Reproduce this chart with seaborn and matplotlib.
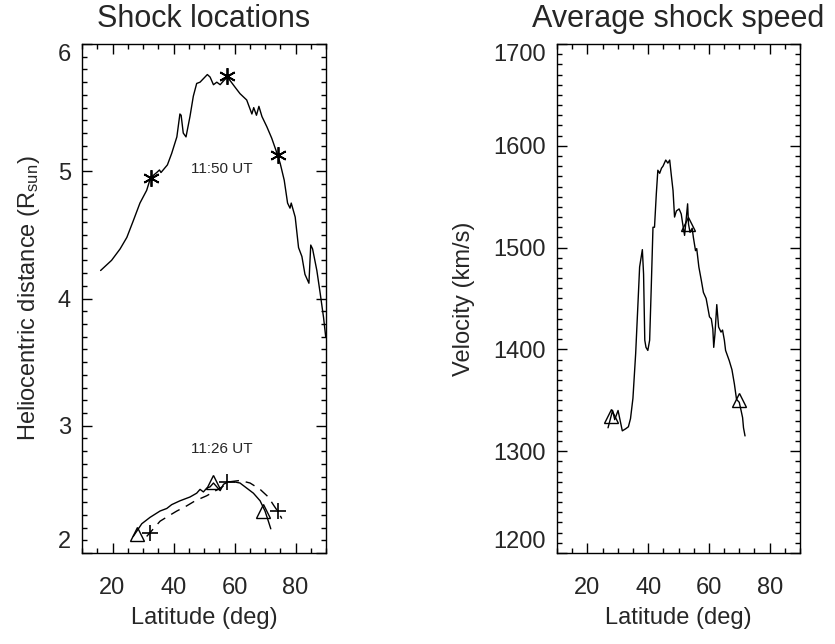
import numpy as np
import pandas as pd
import matplotlib
matplotlib.use("Agg")
import matplotlib.pyplot as plt
import seaborn as sns
from matplotlib.ticker import MultipleLocator

# ---- shock front at 11:50 UT (latitude in deg, distance in R_sun) ----
lat_1150 = [16.1, 19.7, 22.5, 24.7, 26.8, 29.0, 31.2, 32.5, 34.5, 35.4, 35.9, 38.0,
            39.4, 41.1, 42.1, 42.5, 43.2, 44.1, 45.4, 46.5, 47.6, 48.7, 51.1, 52.0,
            53.1, 54.2, 55.3, 56.4, 57.7, 60.2, 61.8, 64.0, 65.7, 66.3, 67.2, 68.0,
            69.0, 70.6, 72.2, 74.1, 75.0, 76.3, 77.4, 78.2, 78.6, 79.9, 81.0, 82.1,
            83.1, 84.4, 85.0, 85.6, 87.0, 88.1, 89.2, 89.9]
r_1150 = [4.22, 4.30, 4.39, 4.48, 4.61, 4.75, 4.85, 4.95, 4.99, 5.01, 4.99, 5.05,
          5.14, 5.27, 5.45, 5.44, 5.30, 5.27, 5.43, 5.59, 5.69, 5.70, 5.76, 5.74,
          5.68, 5.70, 5.68, 5.71, 5.74, 5.66, 5.61, 5.56, 5.45, 5.50, 5.44, 5.51,
          5.43, 5.35, 5.26, 5.13, 5.06, 4.93, 4.75, 4.71, 4.75, 4.64, 4.40, 4.33,
          4.19, 4.12, 4.42, 4.39, 4.22, 4.04, 3.85, 3.70]
star_lat = [32.5, 57.7, 74.1]
star_r = [4.95, 5.75, 5.13]

# ---- shock front at 11:26 UT ----
lat_1126 = [26.8, 29.6, 32.3, 35.6, 37.8, 39.4, 42.1, 45.4, 47.6, 48.7, 49.8, 50.9,
            52.0, 53.1, 54.2, 55.3, 56.4, 58.0, 59.7, 61.8, 64.0, 66.2, 68.4, 70.0,
            71.1, 71.9]
r_1126 = [2.13, 2.23, 2.28, 2.33, 2.35, 2.38, 2.41, 2.44, 2.47, 2.50, 2.48, 2.51,
          2.52, 2.55, 2.52, 2.49, 2.54, 2.56, 2.56, 2.55, 2.51, 2.47, 2.41, 2.33,
          2.25, 2.19]
tri_lat = [27.9, 53.1, 69.3]
tri_r = [2.15, 2.56, 2.33]

# ---- fitted front, 11:26 UT (dashed) ----
lat_fit = [31.2, 35.6, 38.3, 41.1, 44.3, 47.1, 50.9, 55.3, 58.5, 61.8, 65.1, 68.4,
           71.1, 72.7, 74.4, 75.5]
r_fit = [2.13, 2.25, 2.29, 2.33, 2.37, 2.41, 2.45, 2.51, 2.56, 2.57, 2.55, 2.50,
         2.44, 2.38, 2.32, 2.27]
plus_lat = [32.3, 57.4, 74.4]
plus_r = [2.16, 2.56, 2.33]

# ---- average shock speed ----
lat_v = [26.8, 28.3, 29.0, 30.1, 31.5, 32.6, 33.5, 34.2, 35.0, 35.9, 36.7, 37.2,
         38.1, 38.5, 38.9, 39.3, 39.9, 40.5, 41.0, 41.6, 42.1, 42.7, 43.2, 43.8,
         44.4, 44.9, 45.8, 46.5, 47.1, 47.6, 48.2, 48.7, 49.3, 50.2, 50.9, 51.4,
         52.0, 52.5, 53.0, 53.3, 53.8, 54.5, 54.9, 55.6, 56.0, 56.7, 57.5, 58.2,
         59.1, 60.2, 60.8, 61.3, 61.6, 62.0, 62.6, 63.2, 64.0, 64.5, 65.1, 65.5,
         66.7, 67.6, 68.4, 69.1, 70.0, 70.6, 71.1, 71.4, 71.9]
v_kms = [1323, 1340, 1331, 1340, 1320, 1322, 1324, 1332, 1352, 1396, 1448, 1481,
         1498, 1474, 1409, 1402, 1399, 1409, 1458, 1520, 1520, 1553, 1576, 1573,
         1578, 1580, 1586, 1583, 1586, 1572, 1556, 1530, 1536, 1538, 1533, 1523,
         1512, 1527, 1543, 1523, 1515, 1519, 1510, 1497, 1499, 1481, 1468, 1456,
         1450, 1432, 1430, 1420, 1402, 1415, 1444, 1422, 1417, 1419, 1409, 1399,
         1389, 1380, 1366, 1351, 1348, 1340, 1333, 1323, 1315]
vtri_lat = [27.9, 53.1, 69.8]
vtri_v = [1335, 1523, 1350]

sns.set_theme(style="ticks")
plt.rcParams["font.family"] = ["Liberation Sans", "DejaVu Sans"]
plt.rcParams["mathtext.fontset"] = "custom"
plt.rcParams["mathtext.rm"] = "Liberation Sans"
plt.rcParams["mathtext.it"] = "Liberation Sans:italic"
txt = "#262626"

fig = plt.figure(figsize=(8.35, 6.44), dpi=100)
ax1 = fig.add_axes([82 / 835, 91 / 644, 244 / 835, 509 / 644])
ax2 = fig.add_axes([557 / 835, 91 / 644, 243 / 835, 509 / 644])

line_kw = dict(color="black", lw=1.0, estimator=None, sort=False)

sns.lineplot(data=pd.DataFrame({"lat": lat_1150, "r": r_1150}), x="lat", y="r",
             ax=ax1, **line_kw)
sns.lineplot(data=pd.DataFrame({"lat": lat_1126, "r": r_1126}), x="lat", y="r",
             ax=ax1, **line_kw)
sns.lineplot(data=pd.DataFrame({"lat": lat_fit, "r": r_fit}), x="lat", y="r",
             ax=ax1, dashes=False, linestyle=(0, (7, 5)), **line_kw)
sns.lineplot(x=star_lat, y=star_r, ax=ax1, estimator=None, sort=False,
             linestyle="none", marker=(6, 2, 0), markersize=12,
             markeredgecolor="black", markeredgewidth=1.3, color="black")
sns.lineplot(x=tri_lat, y=tri_r, ax=ax1, estimator=None, sort=False,
             linestyle="none", marker="^", markersize=10, markerfacecolor="none",
             markeredgecolor="black", markeredgewidth=1.0, color="black")
sns.lineplot(x=plus_lat, y=plus_r, ax=ax1, estimator=None, sort=False,
             linestyle="none", marker="+", markersize=11,
             markeredgecolor="black", markeredgewidth=1.2, color="black")

ax1.text(56, 5.02, "11:50 UT", ha="center", va="center", fontsize=11, color=txt)
ax1.text(56, 2.82, "11:26 UT", ha="center", va="center", fontsize=11, color=txt)

sns.lineplot(data=pd.DataFrame({"lat": lat_v, "v": v_kms}), x="lat", y="v",
             ax=ax2, **line_kw)
sns.lineplot(x=vtri_lat, y=vtri_v, ax=ax2, estimator=None, sort=False,
             linestyle="none", marker="^", markersize=10, markerfacecolor="none",
             markeredgecolor="black", markeredgewidth=1.0, color="black")

panels = [
    (ax1, (2, 6), 1, 0.1, "Heliocentric distance (R$_\\mathregular{sun}$)",
     "Shock locations", 11),
    (ax2, (1200, 1700), 100, 10, "Velocity (km/s)", "Average shock speed", 13),
]
for ax, ylim, ymaj, ymin, ylab, title, lpad in panels:
    ax.set_xlim(10, 90)
    ax.set_ylim(*ylim)
    ax.set_xticks([20, 40, 60, 80])
    ax.xaxis.set_minor_locator(MultipleLocator(5))
    ax.set_yticks(np.arange(ylim[0], ylim[1] + ymaj / 2, ymaj))
    ax.yaxis.set_minor_locator(MultipleLocator(ymin))
    ax.tick_params(which="both", direction="in", top=True, right=True,
                   colors="black", labelcolor=txt, labelsize=17, width=1.0)
    ax.tick_params(axis="x", which="major", length=7, pad=17)
    ax.tick_params(axis="y", which="major", length=7, pad=8)
    ax.tick_params(which="minor", length=3.5)
    for s in ax.spines.values():
        s.set_visible(True)
        s.set_linewidth(1.0)
        s.set_color("black")
    ax.set_xlabel("Latitude (deg)", fontsize=17, color=txt, labelpad=6)
    ax.set_ylabel(ylab, fontsize=17, color=txt, labelpad=lpad)
    ax.set_title(title, fontsize=22, color=txt, pad=12)
    ylabels = ax.get_yticklabels()
    ylabels[0].set_va("bottom")
    ylabels[-1].set_va("top")

fig.savefig("out.png", dpi=100)
